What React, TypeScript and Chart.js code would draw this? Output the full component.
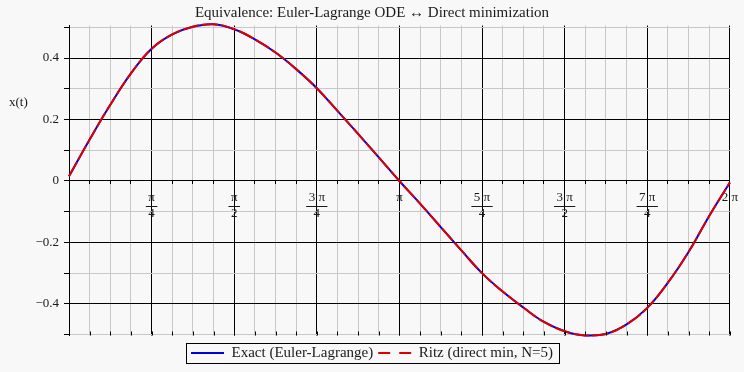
import { useEffect, useRef } from 'react';
import { Chart, registerables } from 'chart.js';

Chart.register(...registerables);

const TITLE = 'Equivalence: Euler-Lagrange ODE \u2194 Direct minimization';
const Y_LABEL = 'x(t)';
const SERIES_NAMES = ['Exact (Euler-Lagrange)', 'Ritz (direct min, N=5)'];

// sample positions, in sixteenths of pi
const T_SIXTEENTHS = [0, 1, 2, 3, 4, 5, 6, 7, 8, 9, 10, 11, 12, 13, 14, 15, 16, 17, 18, 19, 20, 21, 22, 23, 24, 25, 26, 27, 28, 29, 30, 31, 32];

const EXACT = [0.015, 0.135, 0.248, 0.350, 0.430, 0.477, 0.502, 0.510, 0.494, 0.461, 0.418, 0.364, 0.302, 0.228, 0.153, 0.077, 0.0,
  -0.074, -0.150, -0.226, -0.300, -0.360, -0.412, -0.459, -0.489, -0.503, -0.498, -0.467, -0.413, -0.331, -0.231, -0.114, -0.005];
const RITZ = [0.015, 0.135, 0.248, 0.350, 0.430, 0.477, 0.502, 0.510, 0.494, 0.461, 0.418, 0.364, 0.302, 0.228, 0.153, 0.077, 0.0,
  -0.074, -0.150, -0.226, -0.300, -0.360, -0.412, -0.459, -0.489, -0.503, -0.498, -0.467, -0.413, -0.331, -0.231, -0.114, -0.005];

// major x labels at multiples of pi/4: [numerator, denominator]
const X_MAJOR_LABELS: [string, string][] = [
  ['', ''], ['\u03c0', '4'], ['\u03c0', '2'], ['3 \u03c0', '4'], ['\u03c0', ''],
  ['5 \u03c0', '4'], ['3 \u03c0', '2'], ['7 \u03c0', '4'], ['2 \u03c0', ''],
];
const Y_TICKS = [-0.5, -0.4, -0.3, -0.2, -0.1, 0, 0.1, 0.2, 0.3, 0.4, 0.5];
const Y_TICK_LABELS = ['', '\u22120.4', '', '\u22120.2', '', '0', '', '0.2', '', '0.4', ''];

const FONT = '"Liberation Serif", "Times New Roman", serif';
const TEXT = '#1a1a1a';
const MAJOR = '#000000';
const MINOR = '#c8c8c8';
const BLUE = '#0000dd';
const RED = '#dd0000';

const decorations = {
  id: 'decorations',
  afterDraw(chart: any) {
    const ctx = chart.ctx;
    const xs = chart.scales.x;
    const ys = chart.scales.y;
    const area = chart.chartArea;
    const axisY = ys.getPixelForValue(0);
    ctx.save();
    // fraction bars
    ctx.font = '13px ' + FONT;
    ctx.strokeStyle = TEXT;
    ctx.lineWidth = 1;
    X_MAJOR_LABELS.forEach(([num, den], i) => {
      if (!den) return;
      const px = xs.getPixelForValue((i * Math.PI) / 4);
      const w = Math.max(ctx.measureText(num).width, ctx.measureText(den).width) + 5;
      const y = Math.round(axisY + 25) + 0.5;
      ctx.beginPath();
      ctx.moveTo(px - w / 2, y);
      ctx.lineTo(px + w / 2, y);
      ctx.stroke();
    });
    // bottom tick marks
    ctx.strokeStyle = MAJOR;
    T_SIXTEENTHS.forEach((k) => {
      const px = Math.round(xs.getPixelForValue((k * Math.PI) / 16)) + 0.5;
      ctx.beginPath();
      ctx.moveTo(px, area.bottom);
      ctx.lineTo(px, area.bottom - 4);
      ctx.stroke();
    });
    // y axis title (horizontal)
    ctx.fillStyle = TEXT;
    ctx.font = '13px ' + FONT;
    ctx.textAlign = 'left';
    ctx.textBaseline = 'middle';
    ctx.fillText(Y_LABEL, 9, 103);
    // legend frame
    const hb = chart.legend && chart.legend.legendHitBoxes;
    if (hb && hb.length) {
      const last = hb[hb.length - 1];
      const left = Math.round(hb[0].left - 5) + 0.5;
      const right = Math.round(last.left + last.width + 6) + 0.5;
      const cy = hb[0].top + hb[0].height / 2;
      const top = Math.round(cy - 10) + 0.5;
      const bottom = Math.round(cy + 10) + 0.5;
      ctx.strokeStyle = MAJOR;
      ctx.lineWidth = 1;
      ctx.strokeRect(left, top, right - left, bottom - top);
    }
    ctx.restore();
  },
};

export default function App() {
  const ref = useRef<HTMLCanvasElement>(null);

  useEffect(() => {
    document.body.style.margin = '0';
    const canvas = ref.current;
    if (!canvas) return;
    const toPoints = (vals: number[]) => T_SIXTEENTHS.map((k, i) => ({ x: (k * Math.PI) / 16, y: vals[i] }));
    const chart = new Chart(canvas, {
      type: 'line',
      data: {
        datasets: [
          {
            label: SERIES_NAMES[0],
            data: toPoints(EXACT),
            borderColor: BLUE,
            backgroundColor: BLUE,
            borderWidth: 2,
            pointRadius: 0,
            fill: false,
            tension: 0.4,
            clip: false,
            order: 1,
          },
          {
            label: SERIES_NAMES[1],
            data: toPoints(RITZ),
            borderColor: RED,
            backgroundColor: RED,
            borderWidth: 2,
            borderDash: [16, 3],
            pointRadius: 0,
            fill: false,
            tension: 0.4,
            clip: false,
            order: 0,
          },
        ],
      },
      options: {
        responsive: false,
        animation: false,
        events: [],
        layout: { padding: { left: 0, right: 0, top: 0, bottom: 1.5 } },
        scales: {
          x: {
            type: 'linear',
            position: { y: 0 } as any,
            min: 0,
            max: 2 * Math.PI,
            afterBuildTicks: (scale: any) => {
              scale.ticks = T_SIXTEENTHS.map((k) => ({ value: (k * Math.PI) / 16 }));
            },
            ticks: {
              autoSkip: false,
              maxRotation: 0,
              minRotation: 0,
              padding: 6,
              color: TEXT,
              font: { family: FONT, size: 13, lineHeight: '16px' },
              callback: (_v: any, index: number) => {
                if (index % 4 !== 0) return '';
                const [num, den] = X_MAJOR_LABELS[index / 4];
                return den ? [num, den] : num;
              },
            },
            grid: {
              color: (c: any) => (c.index % 4 === 0 ? MAJOR : MINOR),
              tickColor: MAJOR,
              tickLength: 3,
              lineWidth: 1,
            },
            border: { display: true, color: MAJOR, width: 1 },
          },
          y: {
            type: 'linear',
            position: 'left',
            min: -0.503,
            max: 0.506,
            afterBuildTicks: (scale: any) => {
              scale.ticks = Y_TICKS.map((v) => ({ value: v }));
            },
            afterFit: (scale: any) => {
              scale.width = 69;
            },
            ticks: {
              padding: 5,
              color: TEXT,
              font: { family: FONT, size: 13 },
              callback: (_v: any, index: number) => Y_TICK_LABELS[index],
            },
            grid: {
              color: (c: any) => (c.tick && Math.round(c.tick.value * 10) % 2 === 0 ? MAJOR : MINOR),
              tickColor: MAJOR,
              tickLength: 5,
              lineWidth: 1,
            },
            border: { display: true, color: MAJOR, width: 1 },
          },
          yRightSpacer: {
            type: 'linear',
            position: 'right',
            display: true,
            grid: { display: false, drawOnChartArea: false, drawTicks: false },
            ticks: { display: false },
            border: { display: false },
            afterFit: (scale: any) => {
              scale.width = 14;
            },
          },
        },
        plugins: {
          title: {
            display: true,
            text: TITLE,
            color: TEXT,
            font: { family: FONT, size: 15, weight: 'normal' },
            padding: { top: 4, bottom: 3.5 },
          },
          legend: {
            display: true,
            position: 'bottom',
            title: { display: true, text: '', padding: 0, font: { size: 5, lineHeight: 1 } },
            labels: {
              usePointStyle: true,
              pointStyleWidth: 33,
              padding: 5,
              color: TEXT,
              font: { family: FONT, size: 15 },
              generateLabels: (ch: any) =>
                ch.data.datasets.map((ds: any, i: number) => ({
                  text: ds.label,
                  fillStyle: ds.borderColor,
                  strokeStyle: ds.borderColor,
                  lineWidth: 2,
                  lineDash: i === 1 ? [12, 9] : [],
                  pointStyle: 'line',
                  hidden: false,
                  datasetIndex: i,
                  fontColor: TEXT,
                })),
            },
          },
          tooltip: { enabled: false },
        },
      },
      plugins: [decorations],
    });
    return () => chart.destroy();
  }, []);

  return (
    <div style={{ width: 744, height: 372, background: '#f8f8f8' }}>
      <canvas ref={ref} width={744} height={372} style={{ display: 'block' }} />
    </div>
  );
}
